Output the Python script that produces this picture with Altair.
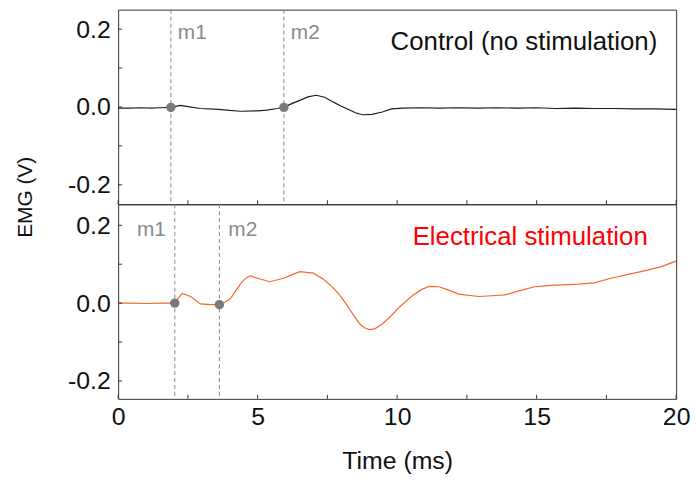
import altair as alt
import pandas as pd

# ---------------- data ----------------
ctrl_t = [0.0, 0.4, 0.8, 1.2, 1.5, 1.89, 2.1, 2.24, 2.5, 2.95, 3.6, 4.0, 4.38, 5.0, 5.33, 5.7, 5.94,
          6.2, 6.51, 6.8, 7.1, 7.4, 7.7, 8.0, 8.3, 8.5, 8.76, 9.1, 9.47, 9.8, 10.2, 10.8, 11.5, 12.2,
          12.9, 13.6, 14.3, 15.0, 15.7, 16.4, 17.1, 17.8, 18.5, 19.2, 20.0]
ctrl_v = [-0.003, -0.003, -0.002, -0.003, -0.002, -0.001, 0.002, 0.004, 0.001, -0.004, -0.006, -0.009,
          -0.011, -0.010, -0.008, -0.004, -0.001, 0.008, 0.017, 0.026, 0.030, 0.025, 0.013, 0.002,
          -0.008, -0.015, -0.020, -0.019, -0.013, -0.005, -0.003, -0.002, -0.003, -0.002, -0.003,
          -0.002, -0.003, -0.002, -0.004, -0.003, -0.004, -0.004, -0.005, -0.005, -0.006]

stim_t = [0.0, 0.5, 1.0, 1.5, 2.03, 2.15, 2.30, 2.6, 2.95, 3.3, 3.63, 3.8, 4.02, 4.2, 4.38, 4.55, 4.73,
          5.09, 5.44, 5.92, 6.2, 6.51, 6.99, 7.35, 7.7, 7.95, 8.17, 8.4, 8.65, 8.85, 9.0, 9.2, 9.48,
          9.75, 10.07, 10.54, 10.85, 11.14, 11.5, 11.9, 12.2, 12.92, 13.4, 13.86, 14.4, 14.93, 15.4,
          15.88, 16.5, 17.07, 17.66, 18.25, 18.85, 19.44, 20.0]
stim_v = [0.0, 0.0, -0.001, 0.0, 0.0, 0.012, 0.025, 0.017, -0.002, -0.004, -0.004, 0.001, 0.011, 0.030,
          0.049, 0.063, 0.070, 0.062, 0.055, 0.064, 0.072, 0.081, 0.077, 0.062, 0.040, 0.020, -0.002,
          -0.027, -0.053, -0.064, -0.068, -0.066, -0.053, -0.035, -0.011, 0.019, 0.034, 0.043, 0.042,
          0.032, 0.023, 0.017, 0.019, 0.021, 0.032, 0.042, 0.045, 0.047, 0.049, 0.052, 0.064, 0.073,
          0.083, 0.093, 0.108]

ctrl_marker_t = [1.89, 5.94]
ctrl_marker_v = [-0.001, -0.001]
stim_marker_t = [2.03, 3.63]
stim_marker_v = [0.0, -0.004]
marker_names = ["m1", "m2"]

x_ticks_major = [0, 5, 10, 15, 20]
x_ticks_all = [0, 2.5, 5, 7.5, 10, 12.5, 15, 17.5, 20]
y_ticks_major = [-0.2, 0.0, 0.2]
y_ticks_all = [-0.2, -0.1, 0.0, 0.1, 0.2]

FONT = "Liberation Sans"
W, H = 562, 196
X_DOM = [0, 20]
Y_DOM_TOP = [-0.25, 0.25]
Y_DOM_BOT = [-0.246, 0.254]
GRAY = "#8a8a8a"
LABEL_EXPR = "datum.value < 0 ? '-' + format(-datum.value, '.1f') : format(datum.value, '.1f')"


def panel(t, v, mt, mv, line_color, y_dom, title_text, title_color, title_x, title_y, title_align,
          label_dx, label_align, label_y, show_x_axis, extra=None):
    xs = alt.Scale(domain=X_DOM, nice=False, zero=False)
    ys = alt.Scale(domain=y_dom, nice=False, zero=False)
    if show_x_axis:
        xaxis = alt.Axis(values=x_ticks_major, ticks=False, tickSize=0, domain=False, grid=False,
                         labelFlush=False, labelOverlap=False,
                         labelFont=FONT, labelFontSize=25, labelColor="#111", labelPadding=6,
                         title="Time (ms)", titleFont=FONT, titleFontSize=25, titleFontWeight="normal",
                         titleColor="#111", titlePadding=19)
    else:
        xaxis = None
    yaxis = alt.Axis(values=y_ticks_major, labelExpr=LABEL_EXPR, ticks=False, tickSize=0, domain=False,
                     grid=False, labelFlush=False, labelOverlap=False,
                     labelFont=FONT, labelFontSize=25, labelColor="#111", labelPadding=8, title=None)

    def X(f):
        return alt.X(f, type="quantitative", scale=xs, axis=xaxis)

    def Y(f):
        return alt.Y(f, type="quantitative", scale=ys, axis=yaxis)

    line_df = pd.DataFrame({"t": t, "v": v})
    mk_df = pd.DataFrame({"t": mt, "v": mv, "name": marker_names})

    line = alt.Chart(line_df).mark_line(color=line_color, strokeWidth=1.2).encode(x=X("t"), y=Y("v"))
    rules = alt.Chart(mk_df).mark_rule(color=GRAY, strokeWidth=1, strokeDash=[4, 3]).encode(
        x=X("t"), y=alt.value(0), y2=alt.value(H)
    )
    pts = alt.Chart(mk_df).mark_circle(color="#7a7a7a", size=90, opacity=1).encode(x=X("t"), y=Y("v"))
    labs = []
    for i in range(len(marker_names)):
        labs.append(
            alt.Chart(mk_df.iloc[[i]].reset_index(drop=True)).mark_text(
                font=FONT, fontSize=21, color=GRAY, align=label_align[i], baseline="alphabetic",
                dx=label_dx[i]
            ).encode(x=X("t"), y=alt.value(label_y), text=alt.Text("name:N"))
        )
    ttl = alt.Chart(pd.DataFrame({"s": [title_text]})).mark_text(
        font=FONT, fontSize=26, color=title_color, align=title_align, baseline="alphabetic"
    ).encode(x=alt.value(title_x), y=alt.value(title_y), text=alt.Text("s:N"))
    yt = alt.Chart(pd.DataFrame({"v": y_ticks_all})).mark_rule(color="#333", strokeWidth=1).encode(
        y=Y("v"), x=alt.value(0), x2=alt.value(4)
    )
    xt = alt.Chart(pd.DataFrame({"t": x_ticks_all})).mark_rule(color="#333", strokeWidth=1).encode(
        x=X("t"), y=alt.value(H), y2=alt.value(H - 4)
    )
    layers = [rules, line, pts] + labs + [ttl, yt, xt]
    if extra is not None:
        layers.append(extra)
    return alt.layer(*layers).properties(width=W, height=H)


emg = alt.Chart(pd.DataFrame({"s": ["EMG (V)"]})).mark_text(
    font=FONT, fontSize=21, color="#111", angle=270, align="center", baseline="middle"
).encode(x=alt.value(-93), y=alt.value(189), text=alt.Text("s:N"))

top = panel(ctrl_t, ctrl_v, ctrl_marker_t, ctrl_marker_v, "#1e1e1e", Y_DOM_TOP,
            "Control (no stimulation)", "#111", 543, 41, "right",
            [7, 7], ["left", "left"], 30, False, extra=emg)
bot = panel(stim_t, stim_v, stim_marker_t, stim_marker_v, "#F26A2E", Y_DOM_BOT,
            "Electrical stimulation", "#FF0000", 415, 41, "center",
            [-9, 9], ["right", "left"], 32, True)

chart = alt.vconcat(top, bot, spacing=0, bounds="flush").properties(
    padding={"left": 14, "top": 7, "right": 5, "bottom": 5}
).configure_view(stroke="#333", strokeWidth=1)

chart.save("out.html", embed_options={"renderer": "svg", "actions": False})
